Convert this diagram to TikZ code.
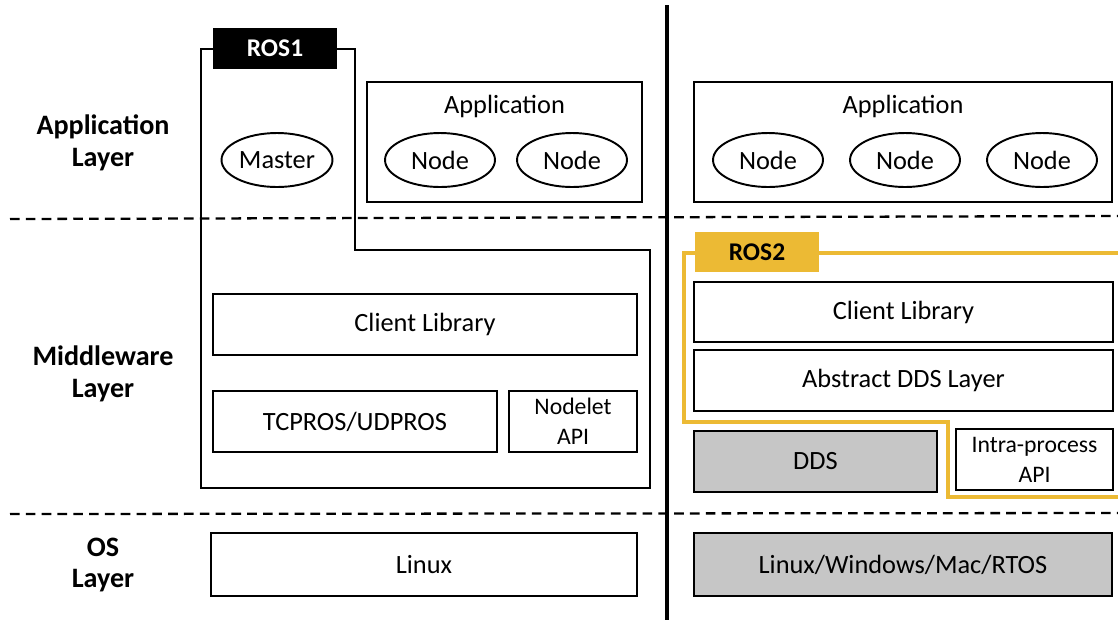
\documentclass[tikz,border=0pt]{standalone}
\usepackage{fontspec}
\setmainfont{Carlito}
\usetikzlibrary{shapes.geometric}
\definecolor{rosgold}{RGB}{236,186,52}
\definecolor{ddsgray}{RGB}{198,198,198}
\begin{document}
\begin{tikzpicture}[x=0.02cm,y=-0.02cm,
    box/.style={rectangle,draw,line width=1.25pt,inner sep=0pt,font=\fontsize{15}{18}\selectfont},
    oval/.style={ellipse,draw,line width=1.1pt,inner sep=0pt,minimum width=2.2cm,minimum height=1.08cm,font=\fontsize{15}{18}\selectfont},
    layer/.style={align=center,font=\fontsize{16}{18}\selectfont\bfseries},
    tab/.style={rectangle,inner sep=0pt,minimum width=2.48cm,minimum height=0.82cm,font=\fontsize{14.5}{17}\selectfont\bfseries},
    sep/.style={dashed,line width=1.3pt,dash pattern=on 5.5pt off 3.5pt}]

      \useasboundingbox (0,0) rectangle (1118,620);

      % layer separators
      \draw[sep] (10,219) -- (1118,216);
      \draw[sep] (10,514) -- (1118,513);
      \draw[line width=1.9pt] (667,5) -- (667,620);

      \begin{scope}[every node/.style={layer}]
        \node (applayer) at (103,143) {Application\\Layer};
        \node (midlayer) at (103,374) {Middleware\\Layer};
        \node (oslayer)  at (103,565) {OS\\Layer};
      \end{scope}

      % ROS1
      \node[tab,fill=black,text=white] (ros1) at (275,48.5) {ROS1};
      \draw[line width=1.4pt] (ros1.west|-201,49) -- (201,49) -- (201,488) -- (650,488)
        -- (650,250) -- (355,250) -- (355,49) -- (ros1.east|-355,49);
      \node[oval,minimum width=2.22cm] (master) at (277,160) {Master};
      \node[box,minimum width=5.5cm,minimum height=2.4cm] (app1) at (504.5,142) {};
      \node[font=\fontsize{15}{18}\selectfont] (app1lbl) at (504.5,106) {Application};
      \node[oval] (node1) at (440,160) {Node};
      \node[oval] (node2) at (572,160) {Node};
      \node[box,minimum width=8.48cm,minimum height=1.22cm] (clib1) at (425,324.5) {Client Library};
      \node[box,minimum width=5.68cm,minimum height=1.22cm] (tcpros) at (355,421.5) {TCPROS/UDPROS};
      \node[box,minimum width=2.56cm,minimum height=1.22cm,align=center,
        font=\fontsize{13.5}{17}\selectfont] (nodelet) at (573,421.5) {Nodelet\\API};
      \node[box,minimum width=8.52cm,minimum height=1.26cm] (linux) at (424,564.5) {Linux};

      % ROS2
      \node[box,minimum width=8.36cm,minimum height=2.4cm] (app2) at (903,142) {};
      \node[font=\fontsize{15}{18}\selectfont] (app2lbl) at (903,106) {Application};
      \node[oval] (node3) at (768,160) {Node};
      \node[oval] (node4) at (905,160) {Node};
      \node[oval] (node5) at (1042,160) {Node};
      \node[tab,fill=rosgold,minimum height=0.8cm] (ros2) at (757,252) {ROS2};
      \draw[rosgold,line width=2pt] (ros2.east|-700,253) -- (1118,253);
      \draw[rosgold,line width=2pt] (ros2.west|-700,253) -- (684,253) -- (684,422) -- (948,422)
        -- (948,497) -- (1118,497);
      \node[box,minimum width=8.38cm,minimum height=1.2cm] (clib2) at (903.5,312) {Client Library};
      \node[box,minimum width=8.38cm,minimum height=1.22cm] (adds) at (903.5,380.5) {Abstract DDS Layer};
      \node[box,fill=ddsgray,minimum width=4.86cm,minimum height=1.22cm] (dds) at (815.5,461.5) {DDS};
      \node[box,minimum width=3.14cm,minimum height=1.22cm,align=center,
        font=\fontsize{13.5}{17}\selectfont] (intra) at (1034.5,459.5) {Intra-process\\API};
      \node[box,fill=ddsgray,minimum width=8.36cm,minimum height=1.26cm] (os2) at (903,564.5) {Linux/Windows/Mac/RTOS};

    \end{tikzpicture}
\end{document}
